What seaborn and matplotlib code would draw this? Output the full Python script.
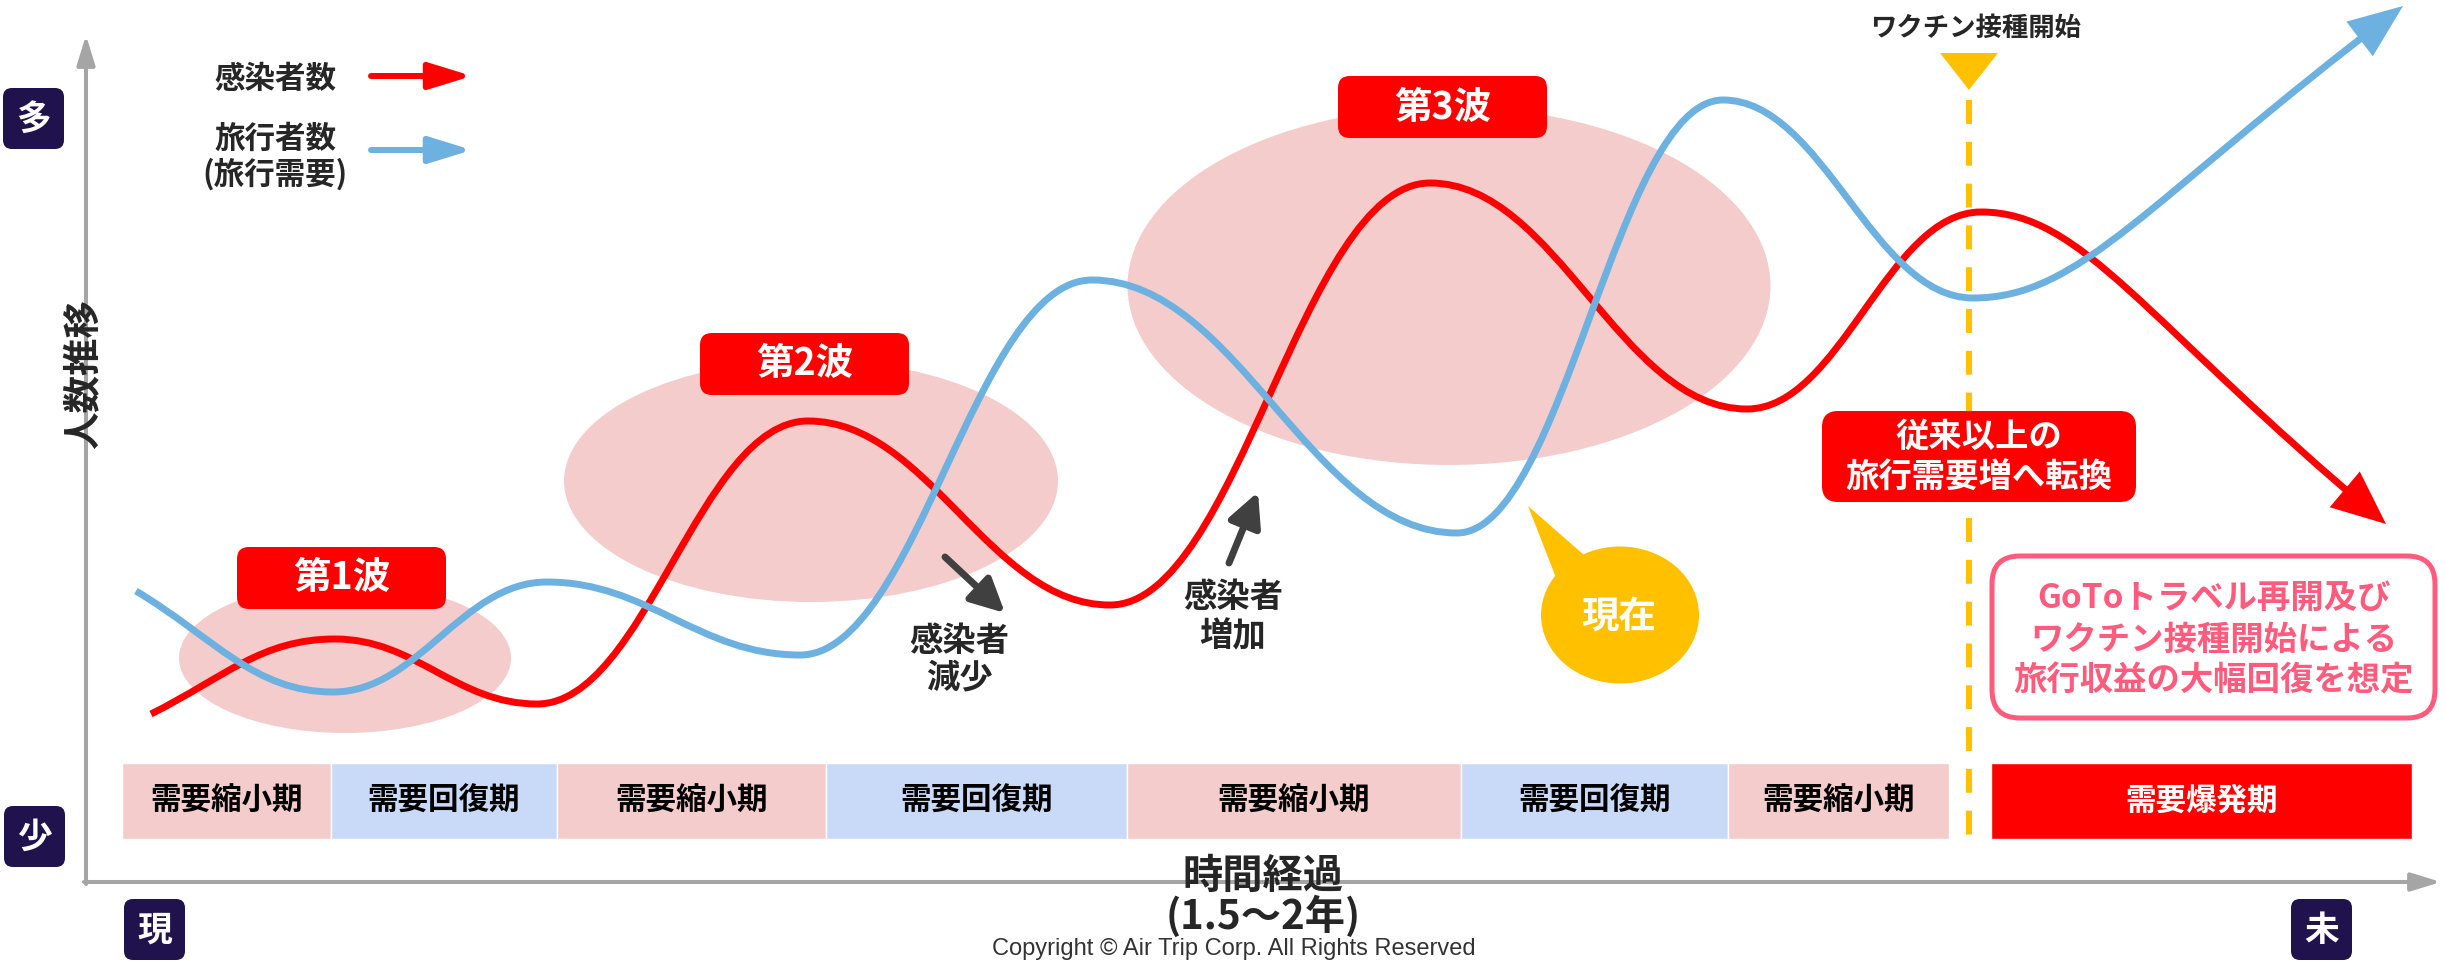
import matplotlib
matplotlib.use("Agg")
import matplotlib.pyplot as plt
import seaborn as sns
from matplotlib.path import Path
from matplotlib.patches import Ellipse, FancyBboxPatch, FancyArrowPatch, Polygon, Rectangle

# ---------------- data (canvas units: 1 unit = 1 px, y grows downward) ----------------
# turning points of the two schematic curves
infected_x = [151, 335, 537, 808, 1110, 1430, 1747, 1981, 2386]
infected_y = [714, 639, 704, 421, 605, 183, 409, 212, 524]
travel_x = [136, 333, 547, 800, 1092, 1457, 1723, 1973, 2403]
travel_y = [591, 692, 582, 655, 280, 533, 100, 298, 6]

# demand phases along the time axis
phase_labels = ["需要縮小期", "需要回復期", "需要縮小期", "需要回復期",
                "需要縮小期", "需要回復期", "需要縮小期", "需要爆発期"]
phase_kind = ["shrink", "recover", "shrink", "recover",
              "shrink", "recover", "shrink", "boom"]
phase_start = [122, 331, 557, 826, 1127, 1461, 1728, 1991]
phase_end = [331, 557, 826, 1127, 1461, 1728, 1949, 2412]

# infection waves
wave_labels = ["第1波", "第2波", "第3波"]

# ---------------- style ----------------
sns.set_theme(style="white")
plt.rcParams["font.family"] = ["Noto Sans CJK JP", "DejaVu Sans"]
plt.rcParams["font.weight"] = "bold"

RED = "#FF0000"
BLUE = "#6CB1DF"
PINK = "#F4CCCC"
LIGHT_BLUE = "#C9DAF8"
YELLOW = "#FFC000"
NAVY = "#20124D"
AXIS_GRAY = "#A5A5A5"
DARK = "#404040"
ROSE = "#FF5B7D"
phase_colors = {"shrink": PINK, "recover": LIGHT_BLUE, "boom": RED}

W, H = 2445, 961
fig = plt.figure(figsize=(W / 100, H / 100), dpi=100)
ax = fig.add_axes([0, 0, 1, 1])
ax.set_xlim(0, W)
ax.set_ylim(H, 0)
ax.axis("off")


def wave_path(xs, ys, start_slope, end_slope, k=0.4, k_last_a=0.25, k_last_b=0.6):
    """Chain of cubic Bezier pieces with flat tangents at every turning point."""
    verts = [(xs[0], ys[0])]
    codes = [Path.MOVETO]
    n = len(xs)
    for i in range(n - 1):
        x0, y0, x1, y1 = xs[i], ys[i], xs[i + 1], ys[i + 1]
        dx = x1 - x0
        s0 = start_slope if i == 0 else 0.0
        s1 = end_slope if i == n - 2 else 0.0
        ka = k_last_a if i == n - 2 else k
        kb = k_last_b if i == n - 2 else k
        verts += [(x0 + ka * dx, y0 + s0 * ka * dx),
                  (x1 - kb * dx, y1 - s1 * kb * dx),
                  (x1, y1)]
        codes += [Path.CURVE4] * 3
    return Path(verts, codes)


def rounded_box(x0, y0, w, h, color, r=12, z=6, ec="none", lw=0):
    ax.add_patch(FancyBboxPatch((x0, y0), w, h,
                                boxstyle=f"round,pad=0,rounding_size={r}",
                                fc=color, ec=ec, lw=lw, zorder=z))


def arrow(tail, tip, color, lw, hl, hw, ms=10, z=5):
    ax.annotate("", xy=tip, xytext=tail,
                arrowprops=dict(arrowstyle=f"-|>,head_length={hl},head_width={hw}",
                                mutation_scale=ms, lw=lw, color=color,
                                shrinkA=0, shrinkB=0),
                zorder=z)


# ---------------- background shapes ----------------
for cx, cy, ew, eh in [(345, 658, 332, 150), (811, 481, 494, 242), (1449, 286, 643, 358)]:
    ax.add_patch(Ellipse((cx, cy), ew, eh, fc=PINK, ec="none", zorder=1))

# phase strip
for lab, kind, s, e in zip(phase_labels, phase_kind, phase_start, phase_end):
    ax.barh(801, e - s, left=s, height=76, color=phase_colors[kind], zorder=2)
    ax.text((s + e) / 2, 801, lab, ha="center", va="center", fontsize=22,
            fontweight="bold", color="white" if kind == "boom" else "black", zorder=3)

# axes arrows
arrow((86, 884), (86, 35), AXIS_GRAY, 2.9, 1.8, 0.55)
arrow((84, 882), (2441, 882), AXIS_GRAY, 2.9, 1.8, 0.55)
ax.add_patch(Rectangle((1166, 870), 204, 24, fc="white", ec="none", zorder=4))
ax.add_patch(Rectangle((70, 288), 32, 172, fc="white", ec="none", zorder=4))
ax.text(1263, 897, "時間経過\n(1.5〜2年)", ha="center", va="center", fontsize=29,
        fontweight="bold", linespacing=0.95, zorder=5)
ax.text(84, 374, "人数推移", ha="center", va="center", rotation=90, fontsize=27,
        fontweight="bold", zorder=5)

# corner tags
for txt, x0, y0 in [("多", 3, 88), ("少", 4, 806), ("現", 124, 899), ("未", 2291, 899)]:
    rounded_box(x0, y0, 61, 61, NAVY, r=9, z=5)
    ax.text(x0 + 30.5, y0 + 31, txt, ha="center", va="center", fontsize=25,
            fontweight="bold", color="white", zorder=6)

# vaccination marker
ax.plot([1969, 1969], [100, 836], color=YELLOW, lw=4.3, ls=(0, (4, 3)), zorder=2.5)
ax.add_patch(Polygon([(1940, 53), (1998, 53), (1969, 90)], closed=True,
                     fc=YELLOW, ec="none", zorder=5))
ax.text(1976, 28, "ワクチン接種開始", ha="center", va="center", fontsize=19,
        fontweight="bold", zorder=5)

# ---------------- the two curves ----------------
red_path = wave_path(infected_x, infected_y, -0.5, 0.84)
blue_path = wave_path(travel_x, travel_y, 0.6, -0.76)
ax.add_patch(FancyArrowPatch(path=red_path, arrowstyle="-|>,head_length=30,head_width=13",
                             mutation_scale=1, lw=5, color=RED, zorder=3.2,
                             joinstyle="miter", capstyle="butt"))
ax.add_patch(FancyArrowPatch(path=blue_path, arrowstyle="-|>,head_length=30,head_width=12",
                             mutation_scale=1, lw=5, color=BLUE, zorder=3.4,
                             joinstyle="miter", capstyle="butt"))

# legend
ax.text(275, 79, "感染者数", ha="center", va="center", fontsize=22, fontweight="bold")
ax.text(275, 139, "旅行者数", ha="center", va="center", fontsize=22, fontweight="bold")
ax.text(275, 174, "(旅行需要)", ha="center", va="center", fontsize=22, fontweight="bold")
arrow((371, 76), (472, 76), RED, 4.3, 2.6, 0.8)
arrow((371, 150), (472, 150), BLUE, 4.3, 2.6, 0.8)

# wave tags
for lab, (x0, y0) in zip(wave_labels, [(237, 547), (700, 333), (1338, 76)]):
    rounded_box(x0, y0, 209, 62, RED, r=12, z=6)
    ax.text(x0 + 104.5, y0 + 31, lab, ha="center", va="center", fontsize=27,
            fontweight="bold", color="white", zorder=7)

# infection notes
arrow((945, 557), (1005, 613), DARK, 5, 1.7, 0.85, ms=12, z=6)
arrow((1229, 563), (1258, 492), DARK, 5, 1.7, 0.85, ms=12, z=6)
ax.text(959, 641, "感染者", ha="center", va="center", fontsize=24, fontweight="bold", zorder=6)
ax.text(959, 678, "減少", ha="center", va="center", fontsize=24, fontweight="bold", zorder=6)
ax.text(1233, 598, "感染者", ha="center", va="center", fontsize=24, fontweight="bold", zorder=6)
ax.text(1233, 637, "増加", ha="center", va="center", fontsize=24, fontweight="bold", zorder=6)

# "now" bubble
ax.add_patch(Ellipse((1620, 615), 158, 137, fc=YELLOW, ec="none", zorder=6))
ax.add_patch(Polygon([(1528, 506), (1560, 588), (1592, 562)], closed=True,
                     fc=YELLOW, ec="none", zorder=6))
ax.text(1619, 616, "現在", ha="center", va="center", fontsize=27, fontweight="bold",
        color="white", zorder=7)

# outlook boxes
rounded_box(1822, 411, 314, 91, RED, r=16, z=6)
ax.text(1979, 437, "従来以上の", ha="center", va="center", fontsize=24,
        fontweight="bold", color="white", zorder=7)
ax.text(1979, 478, "旅行需要増へ転換", ha="center", va="center", fontsize=24,
        fontweight="bold", color="white", zorder=7)

rounded_box(1992, 556, 443, 162, "white", r=28, z=6, ec=ROSE, lw=3.6)
for txt, yy in [("GoToトラベル再開及び", 598), ("ワクチン接種開始による", 640),
                ("旅行収益の大幅回復を想定", 681)]:
    ax.text(2214, yy, txt, ha="center", va="center", fontsize=24,
            fontweight="bold", color=ROSE, zorder=7)

# footer
ax.text(1234, 960, "Copyright © Air Trip Corp. All Rights Reserved", ha="center",
        va="bottom", fontsize=17, fontweight="normal", color="#333333",
        family=["Liberation Sans", "DejaVu Sans"])

fig.savefig("out.png", dpi=100, facecolor="white")
